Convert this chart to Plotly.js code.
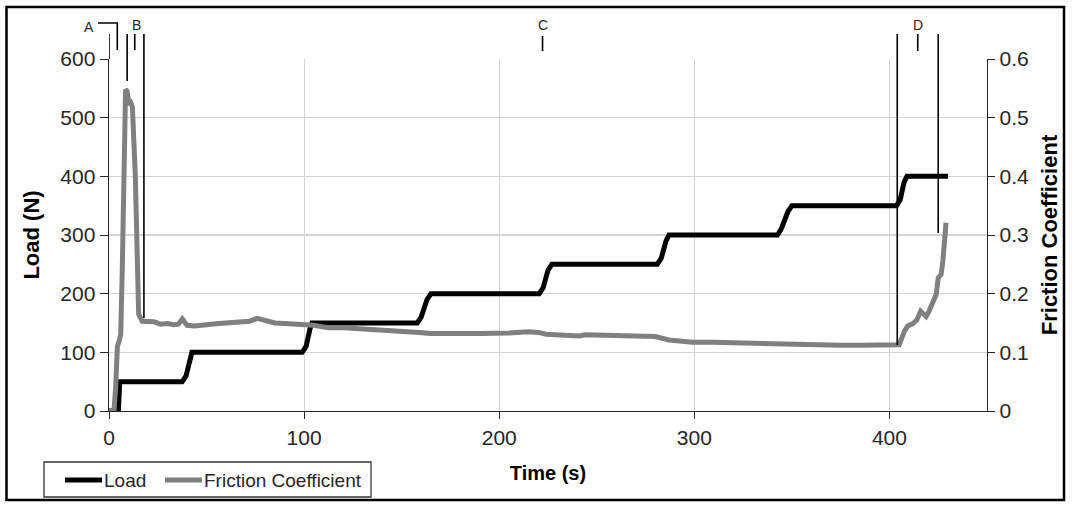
<!DOCTYPE html>
<html>
<head>
<meta charset="utf-8">
<script src="https://cdn.plot.ly/plotly-3.0.1.min.js"></script>
<style>html,body{margin:0;padding:0;background:#fff;}#chart{width:1072px;height:506px;}</style>
</head>
<body>
<div id="chart"></div>
<script>
// ---- data ----
const loadTime = [0, 4.8, 5.5, 37.5, 39.5, 41.5, 42.5, 99, 101, 103, 104, 158, 160, 163, 165, 220.5, 222.5, 225, 227, 281, 283, 285.5, 287, 342.6, 344.5, 348, 350, 403.6, 405.5, 407.5, 409, 430];
const loadValues = [0, 0, 50, 50, 60, 90, 100, 100, 110, 140, 150, 150, 160, 190, 200, 200, 210, 240, 250, 250, 260, 290, 300, 300, 310, 340, 350, 350, 360, 390, 400, 400];

const frictionTime = [0, 2.6, 3.4, 4.3, 5.1, 6, 6.8, 7.7, 8.5, 9.3, 10.3, 11.2, 12, 13.5, 15.2, 17, 18, 20.5, 23, 26.5, 30, 33, 35.5, 37.6, 40, 44, 48, 52, 56, 60, 64, 68, 72, 76, 78, 81, 85, 90, 95, 100, 105, 110, 113, 120, 125, 130, 138.5, 145, 152, 159, 165, 172.6, 180, 190, 198, 205, 215, 220, 224, 230, 241, 244, 255, 265, 275, 280, 287, 293, 299, 310, 320, 330, 342, 348, 354, 365, 375, 385, 395, 401.7, 405, 407.7, 409.4, 412, 414, 416, 418.8, 420, 422, 424, 425, 426.5, 427.4, 428.2, 429];
const frictionValues = [0, 0.002, 0.04, 0.11, 0.118, 0.13, 0.24, 0.47, 0.548, 0.545, 0.522, 0.525, 0.518, 0.40, 0.165, 0.153, 0.153, 0.151, 0.152, 0.148, 0.149, 0.147, 0.148, 0.157, 0.146, 0.145, 0.147, 0.148, 0.149, 0.150, 0.151, 0.151, 0.153, 0.158, 0.156, 0.153, 0.150, 0.149, 0.148, 0.148, 0.146, 0.143, 0.142, 0.142, 0.141, 0.141, 0.140, 0.138, 0.136, 0.134, 0.132, 0.131, 0.132, 0.132, 0.132, 0.133, 0.135, 0.134, 0.131, 0.130, 0.128, 0.130, 0.129, 0.129, 0.128, 0.127, 0.121, 0.119, 0.117, 0.117, 0.116, 0.116, 0.115, 0.113, 0.112, 0.113, 0.112, 0.112, 0.112, 0.112, 0.113, 0.136, 0.145, 0.149, 0.155, 0.170, 0.161, 0.168, 0.182, 0.199, 0.227, 0.233, 0.256, 0.295, 0.321];

// stage markers (time, seconds)
const stageLabels = ['A', 'B', 'C', 'D'];
const stageBounds = [0, 9.3, 17.9, 404, 425];
const stageLabelTimes = [4.1, 13.2, 222.2, 414.5];

const seriesNames = ['Load', 'Friction Coefficient'];
const seriesColors = ['#000000', '#808080'];

const FONT = 'Liberation Sans, Arial, sans-serif';
const TXT = '#262626';

// helper: page pixel -> paper fraction
const PLOT_TOP = 59, PLOT_BOTTOM = 411, PLOT_LEFT = 109, PLOT_RIGHT = 987;
const py = y => (PLOT_BOTTOM - y) / (PLOT_BOTTOM - PLOT_TOP);
const px = x => (x - PLOT_LEFT) / (PLOT_RIGHT - PLOT_LEFT);

const traces = [
  {x: loadTime, y: loadValues, type: 'scatter', mode: 'lines', name: seriesNames[0],
   line: {color: seriesColors[0], width: 5}, yaxis: 'y', showlegend: false},
  {x: frictionTime, y: frictionValues, type: 'scatter', mode: 'lines', name: seriesNames[1],
   line: {color: seriesColors[1], width: 5}, yaxis: 'y2', showlegend: false}
];

const lineStyle = {color: '#000000', width: 1.6};
const shapes = [
  // outer frame
  {type: 'rect', xref: 'paper', yref: 'paper', x0: px(6.5), x1: px(1064), y0: py(500), y1: py(7), line: {color: '#000', width: 2.5}, layer: 'below'},
  // stage boundaries
  {type: 'line', xref: 'x', yref: 'paper', x0: stageBounds[0], x1: stageBounds[0], y0: py(34), y1: 1, line: lineStyle},
  {type: 'line', xref: 'x', yref: 'paper', x0: stageBounds[1], x1: stageBounds[1], y0: py(34), y1: py(81), line: lineStyle},
  {type: 'line', xref: 'x', yref: 'paper', x0: stageBounds[2], x1: stageBounds[2], y0: py(34), y1: py(318), line: lineStyle},
  {type: 'line', xref: 'x', yref: 'paper', x0: stageBounds[3], x1: stageBounds[3], y0: py(34), y1: py(345), line: lineStyle},
  {type: 'line', xref: 'x', yref: 'paper', x0: stageBounds[4], x1: stageBounds[4], y0: py(34), y1: py(233), line: lineStyle},
  // label ticks
  {type: 'path', xref: 'paper', yref: 'paper',
   path: 'M ' + px(98) + ' ' + py(23) + ' L ' + px(117.3) + ' ' + py(23) + ' L ' + px(117.3) + ' ' + py(50), line: lineStyle},
  {type: 'line', xref: 'x', yref: 'paper', x0: stageLabelTimes[1], x1: stageLabelTimes[1], y0: py(34), y1: py(50), line: lineStyle},
  {type: 'line', xref: 'x', yref: 'paper', x0: stageLabelTimes[2], x1: stageLabelTimes[2], y0: py(36), y1: py(51), line: lineStyle},
  {type: 'line', xref: 'x', yref: 'paper', x0: stageLabelTimes[3], x1: stageLabelTimes[3], y0: py(34), y1: py(51), line: lineStyle},
  // legend box and samples
  {type: 'rect', xref: 'paper', yref: 'paper', x0: px(44), x1: px(371), y0: py(497), y1: py(462), line: {color: '#333', width: 1.3}, fillcolor: '#fff'},
  {type: 'line', xref: 'paper', yref: 'paper', x0: px(65), x1: px(102), y0: py(480), y1: py(480), line: {color: seriesColors[0], width: 5}},
  {type: 'line', xref: 'paper', yref: 'paper', x0: px(165), x1: px(202), y0: py(480), y1: py(480), line: {color: seriesColors[1], width: 5}}
];

const stageFont = {family: FONT, size: 14, color: TXT};
const annotations = [
  {text: stageLabels[0], xref: 'paper', yref: 'paper', x: px(89), y: py(27), xanchor: 'center', yanchor: 'middle', showarrow: false, font: stageFont},
  {text: stageLabels[1], xref: 'x', yref: 'paper', x: 14, y: py(25), xanchor: 'center', yanchor: 'middle', showarrow: false, font: stageFont},
  {text: stageLabels[2], xref: 'x', yref: 'paper', x: stageLabelTimes[2], y: py(25), xanchor: 'center', yanchor: 'middle', showarrow: false, font: stageFont},
  {text: stageLabels[3], xref: 'x', yref: 'paper', x: stageLabelTimes[3], y: py(25), xanchor: 'center', yanchor: 'middle', showarrow: false, font: stageFont},
  // legend texts
  {text: seriesNames[0], xref: 'paper', yref: 'paper', x: px(102), y: py(480), xanchor: 'left', yanchor: 'middle', showarrow: false, font: {family: FONT, size: 19, color: TXT}},
  {text: seriesNames[1], xref: 'paper', yref: 'paper', x: px(202), y: py(480), xanchor: 'left', yanchor: 'middle', showarrow: false, font: {family: FONT, size: 19, color: TXT}}
];

const layout = {
  width: 1072, height: 506,
  margin: {l: PLOT_LEFT, r: 1072 - PLOT_RIGHT, t: PLOT_TOP, b: 506 - PLOT_BOTTOM, autoexpand: false},
  paper_bgcolor: '#ffffff', plot_bgcolor: '#ffffff',
  font: {family: FONT, size: 20, color: TXT},
  showlegend: false,
  xaxis: {range: [0, 450], dtick: 100, tick0: 0, showgrid: true, gridcolor: '#d4d4d4', gridwidth: 1.2,
          zeroline: false, showline: true, linecolor: '#262626', linewidth: 1.4, automargin: false,
          ticks: 'outside', ticklen: 7, tickcolor: '#262626',
          tickfont: {family: FONT, size: 21, color: TXT},
          title: {text: '<b>Time (s)</b>', font: {family: FONT, size: 20, color: '#000'}, standoff: 18}},
  yaxis: {range: [0, 600], dtick: 100, showgrid: true, gridcolor: '#d4d4d4', gridwidth: 1.2,
          zeroline: false, showline: true, linecolor: '#262626', linewidth: 1.4, automargin: false,
          ticks: 'outside', ticklen: 8, tickcolor: '#262626',
          tickfont: {family: FONT, size: 21, color: TXT},
          title: {text: '<b>Load (N)</b>', font: {family: FONT, size: 22, color: '#000'}, standoff: 14}},
  yaxis2: {range: [0, 0.6], dtick: 0.1, overlaying: 'y', side: 'right', showgrid: false,
           zeroline: false, showline: true, linecolor: '#262626', linewidth: 1.4, automargin: false,
           ticks: 'outside', ticklen: 7, tickcolor: '#262626',
           tickfont: {family: FONT, size: 21, color: TXT},
           title: {text: '<b>Friction Coefficient</b>', font: {family: FONT, size: 22, color: '#000'}, standoff: 13}},
  shapes: shapes,
  annotations: annotations
};

Plotly.newPlot('chart', traces, layout, {displayModeBar: false, staticPlot: true});
</script>
</body>
</html>
